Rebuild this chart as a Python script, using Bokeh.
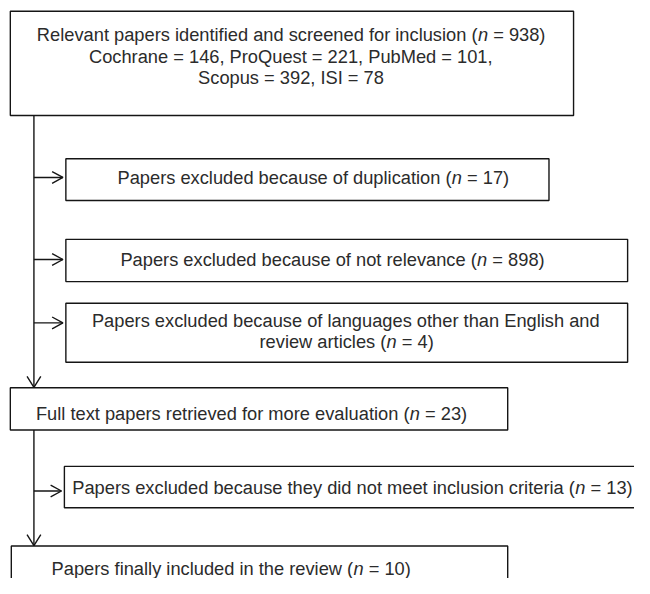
from bokeh.plotting import figure
from bokeh.models import Range1d, ColumnDataSource
from bokeh.embed import file_html
from bokeh.resources import INLINE
from bokeh.core.properties import value

# ---------------- data ----------------
stage_labels = [
    "Relevant papers identified and screened for inclusion",
    "Papers excluded because of duplication",
    "Papers excluded because of not relevance",
    "Papers excluded because of languages other than English and\nreview articles",
    "Full text papers retrieved for more evaluation",
    "Papers excluded because they did not meet inclusion criteria",
    "Papers finally included in the review",
]
stage_n = [938, 17, 898, 4, 23, 13, 10]
source_names = ["Cochrane", "ProQuest", "PubMed", "Scopus", "ISI"]
source_counts = [146, 221, 101, 392, 78]

# ---------------- layout (reference pixel coordinates) ----------------
PW, PH = 634, 578
XMAX = 645.0
SCALE = PW / XMAX
YMAX = PH / SCALE
FS = 18.6                      # font size in reference pixels
FONT = "Liberation Sans"
TXT = "#2b2b2b"
LINE = "#151515"

# boxes: left, right, top, bottom
boxes = [
    (10, 583, 11, 117),
    (66.5, 558, 161, 203.5),
    (66.5, 638, 243, 286),
    (66.5, 638, 308, 368),
    (10, 516, 394, 437),
    (65, 700, 474, 516),
    (11, 516, 555, 640),
]
# text line start x and center y per box (one entry per line)
text_pos = [
    [(37, 35), (90, 56.5), (201, 78)],
    [(119, 180)],
    [(122, 264)],
    [(93, 325.5), (263.5, 347)],
    [(36, 420)],
    [(73, 495)],
    [(52, 578)],
]
MAIN_X = 34
arrow_y = [None, 180, 263.5, 328, None, 499, None]

# Arial / Liberation Sans advance widths (per 1000 em)
W = {' ': 278, '(': 333, ')': 333, ',': 278, '=': 584, '.': 278}
for c in "0123456789":
    W[c] = 556
W.update({'A': 667, 'B': 667, 'C': 722, 'D': 722, 'E': 667, 'F': 611, 'G': 778,
          'H': 722, 'I': 278, 'J': 500, 'K': 667, 'L': 556, 'M': 833, 'N': 722,
          'O': 778, 'P': 667, 'Q': 778, 'R': 722, 'S': 667, 'T': 611, 'U': 722,
          'V': 667, 'W': 944, 'X': 667, 'Y': 667, 'Z': 611,
          'a': 556, 'b': 556, 'c': 500, 'd': 556, 'e': 556, 'f': 278, 'g': 556,
          'h': 556, 'i': 222, 'j': 222, 'k': 500, 'l': 222, 'm': 833, 'n': 556,
          'o': 556, 'p': 556, 'q': 556, 'r': 333, 's': 500, 't': 278, 'u': 556,
          'v': 500, 'w': 722, 'x': 500, 'y': 500, 'z': 500})


def tw(s):
    return sum(W.get(c, 556) for c in s) / 1000.0 * FS


def n_line(prefix, n):
    return [(prefix + " (", False), ("n", True), (" = %d)" % n, False)]


lines_per_box = []
for i, (lab, n) in enumerate(zip(stage_labels, stage_n)):
    parts = lab.split("\n")
    lines = [[(p_, False)] for p_ in parts[:-1]]
    lines.append(n_line(parts[-1], n))
    if i == 0:
        src = ["%s = %d" % (a, b) for a, b in zip(source_names, source_counts)]
        lines.append([(", ".join(src[:3]) + ",", False)])
        lines.append([(", ".join(src[3:]), False)])
    lines_per_box.append(lines)

norm = dict(x=[], y=[], text=[])
ital = dict(x=[], y=[], text=[])
for lines, pos in zip(lines_per_box, text_pos):
    for segs, (x0, yc) in zip(lines, pos):
        x = x0
        for t, it in segs:
            lead = len(t) - len(t.lstrip(" "))
            x += tw(t[:lead])
            body = t[lead:]
            d = ital if it else norm
            d["x"].append(x)
            d["y"].append(yc)
            d["text"].append(body)
            x += tw(body)

# ---------------- figure ----------------
p = figure(width=PW, height=PH, output_backend="svg", toolbar_location=None,
           x_range=Range1d(0, XMAX), y_range=Range1d(YMAX, 0),
           x_axis_type=None, y_axis_type=None, min_border=0)
p.outline_line_color = None
p.grid.visible = False
p.background_fill_color = "white"

bsrc = ColumnDataSource(dict(left=[b[0] for b in boxes], right=[b[1] for b in boxes],
                             top=[b[2] for b in boxes], bottom=[b[3] for b in boxes]))
p.quad(left="left", right="right", top="top", bottom="bottom", source=bsrc,
       fill_color="white", line_color=LINE, line_width=1.4)

xs, ys = [], []
xs.append([MAIN_X, MAIN_X]); ys.append([boxes[0][3], boxes[4][2] - 0.5])
xs.append([MAIN_X, MAIN_X]); ys.append([boxes[4][3], boxes[6][2] - 0.5])
for tip in (boxes[4][2] - 0.5, boxes[6][2] - 0.5):
    xs.append([MAIN_X - 7, MAIN_X, MAIN_X + 7]); ys.append([tip - 11, tip, tip - 11])
for b, ay in zip(boxes, arrow_y):
    if ay is None:
        continue
    tip = b[0] - 3
    xs.append([MAIN_X, tip]); ys.append([ay, ay])
    xs.append([tip - 11, tip, tip - 11]); ys.append([ay - 6, ay, ay + 6])
p.multi_line(xs=xs, ys=ys, line_color=LINE, line_width=1.4)

fs_px = "%.2fpx" % (FS * SCALE)
p.text(x="x", y="y", text="text", source=ColumnDataSource(norm),
       text_font=value(FONT), text_font_size=fs_px, text_color=TXT,
       text_baseline="middle", text_align="left")
p.text(x="x", y="y", text="text", source=ColumnDataSource(ital),
       text_font=value(FONT), text_font_size=fs_px, text_color=TXT,
       text_font_style="italic", text_baseline="middle", text_align="left")

open("out.html", "w").write(file_html(p, INLINE))
